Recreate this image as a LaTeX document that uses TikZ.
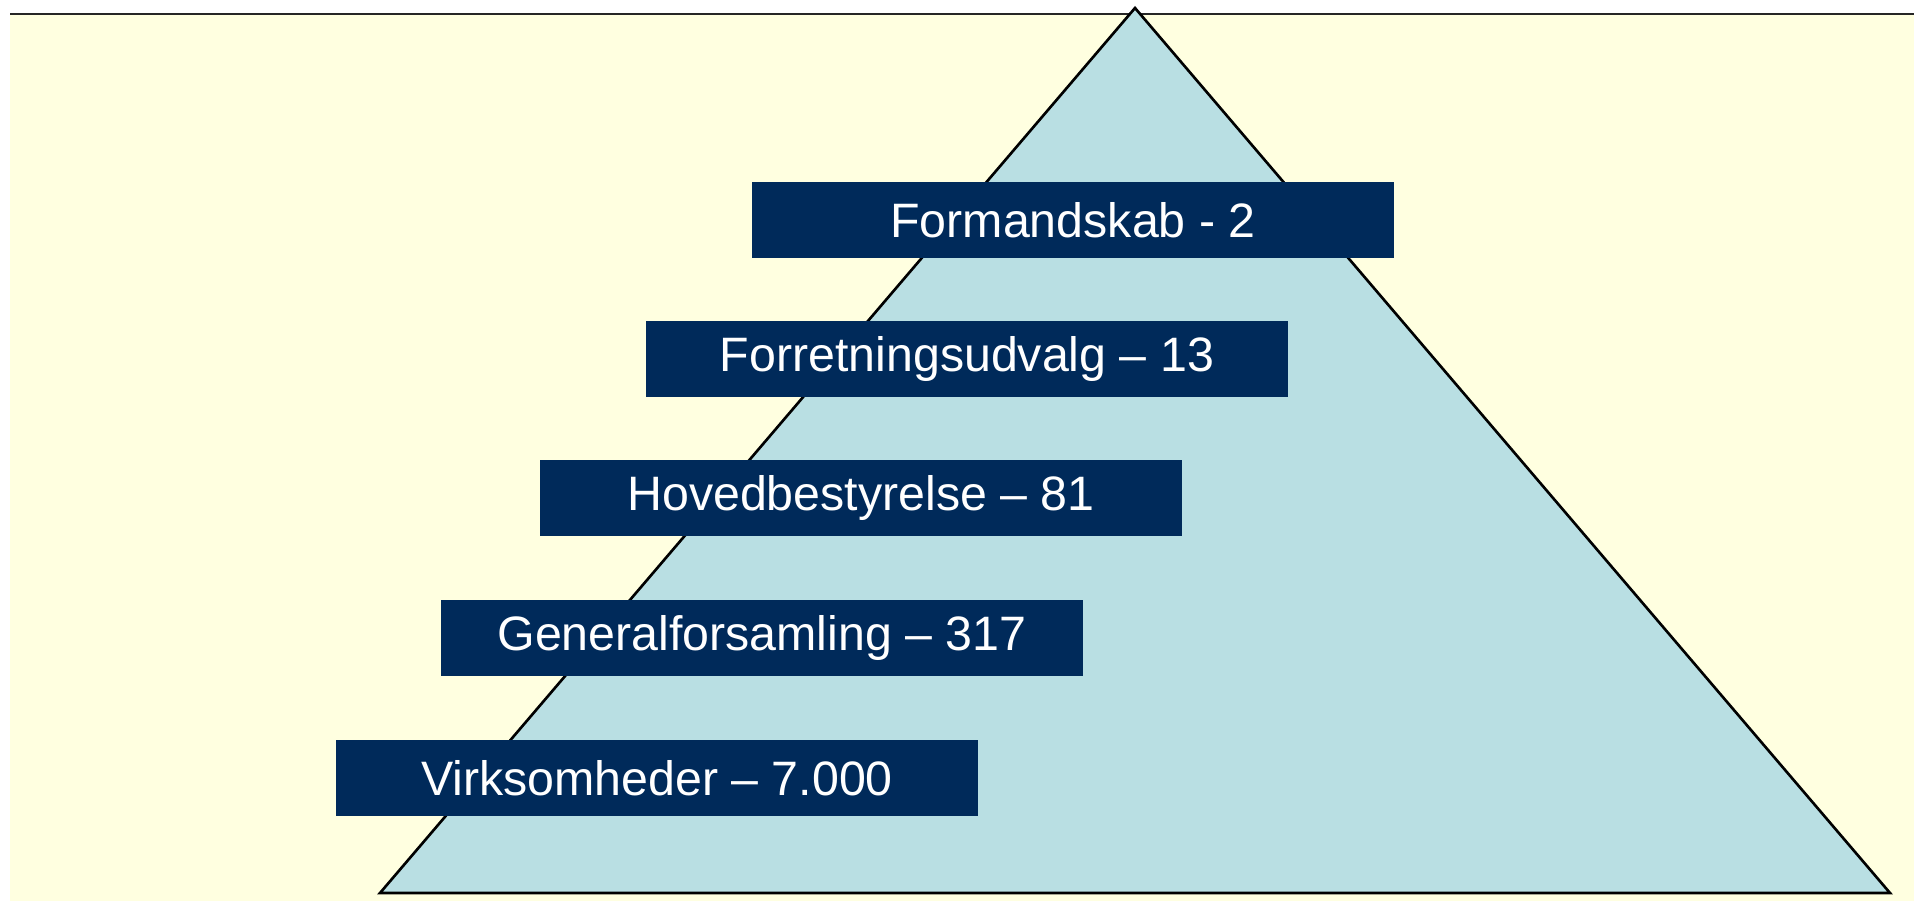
\documentclass[tikz,border=0pt]{standalone}
\usepackage{fontspec}
\setmainfont{Liberation Sans}
\usepackage{tikz}
\usepackage{xcolor}
\definecolor{bgyellow}{RGB}{255,255,224}
\definecolor{pyrblue}{RGB}{185,223,227}
\definecolor{boxnavy}{RGB}{0,42,90}
\tikzset{
    level/.style={fill=boxnavy,text=white,minimum width=12.84cm,minimum height=1.54cm,inner sep=0pt,font=\fontsize{27.5}{32}\selectfont}
}

\begin{document}
\begin{tikzpicture}[x=0.02cm,y=-0.02cm]
        \useasboundingbox (0,0) rectangle (1914,901);
        \fill[bgyellow] (10,14) rectangle (1914,901);
        \draw[line width=1.4pt,black!85] (10,14)--(1914,14);
        \draw[line width=1.5pt,fill=pyrblue] (1135,8)--(1890,893)--(380,893)--cycle;
        \node[level] (formand) at (1073,220) {Formandskab - 2};
        \node[level] (udvalg) at (967,359) {Forretningsudvalg -- 13};
        \node[level] (bestyrelse) at (861,498) {Hovedbestyrelse -- 81};
        \node[level] (forsamling) at (762,638) {Generalforsamling -- 317};
        \node[level] (virksomheder) at (657,778) {Virksomheder -- 7.000};
    \end{tikzpicture}
\end{document}
